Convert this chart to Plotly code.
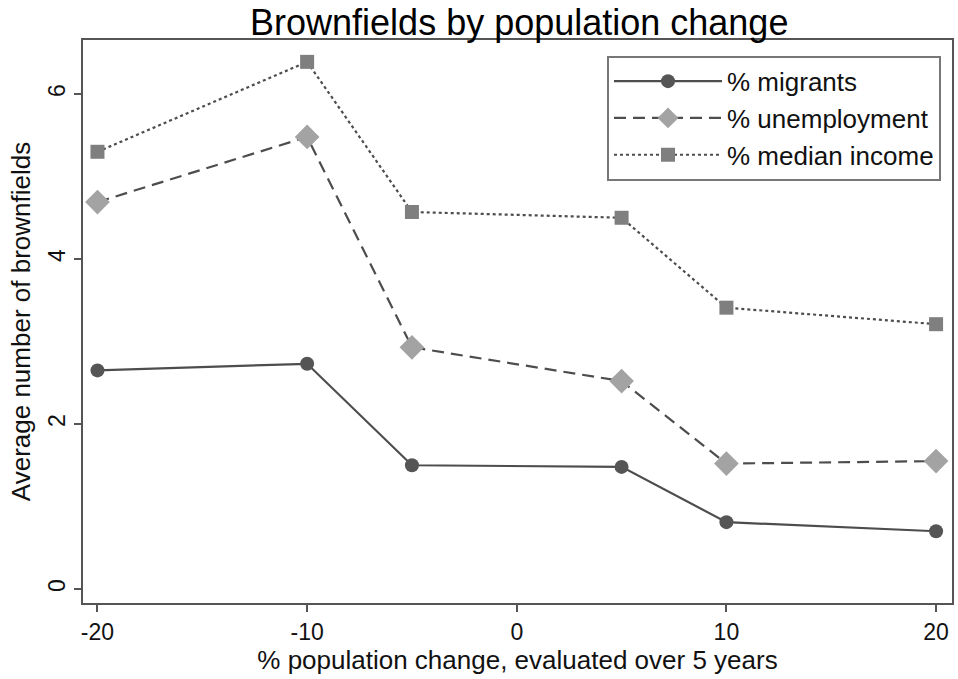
import plotly.graph_objects as go

x_vals = [-20, -10, -5, 5, 10, 20]
migrants = [2.65, 2.73, 1.50, 1.48, 0.81, 0.70]
unemployment = [4.69, 5.48, 2.93, 2.52, 1.52, 1.55]
median_income = [5.30, 6.39, 4.57, 4.50, 3.41, 3.21]
x_ticks = [-20, -10, 0, 10, 20]
x_tick_text = ["-20", "-10", "0", "10", "20"]
y_ticks = [0, 2, 4, 6]

FONT = "Liberation Sans, Arial, sans-serif"
LINE = "#4d4d4d"

fig = go.Figure()
fig.add_trace(go.Scatter(
    x=x_vals, y=migrants, name="% migrants", mode="lines+markers",
    line=dict(color=LINE, width=2.2),
    marker=dict(symbol="circle", size=14, color="#555555"),
))
fig.add_trace(go.Scatter(
    x=x_vals, y=unemployment, name="% unemployment", mode="lines+markers",
    line=dict(color=LINE, width=2.2, dash="12px,7px"),
    marker=dict(symbol="diamond", size=19, color="#a3a3a3"),
))
fig.add_trace(go.Scatter(
    x=x_vals, y=median_income, name="% median income", mode="lines+markers",
    line=dict(color=LINE, width=2.2, dash="dot"),
    marker=dict(symbol="square", size=14, color="#7f7f7f"),
))

fig.update_layout(
    width=958, height=679,
    margin=dict(l=83, r=4, t=40, b=76),
    paper_bgcolor="white", plot_bgcolor="white",
    font=dict(family=FONT, size=22, color="#111111"),
    title=dict(text="Brownfields by population change", x=0.542, xanchor="center",
               y=0.967, yanchor="middle", font=dict(size=36, color="#000000")),
    showlegend=True,
    legend=dict(x=0.603, y=0.972, xanchor="left", yanchor="top",
                bgcolor="white", bordercolor="#777777", borderwidth=2,
                font=dict(size=26), itemwidth=108, tracegroupgap=0),
)
fig.update_xaxes(
    range=[-20.69, 20.76], tickvals=x_ticks, ticktext=x_tick_text,
    ticks="outside", ticklen=7,
    tickwidth=1.5, tickcolor="#555555", showgrid=False, zeroline=False,
    showline=True, linecolor="#555555", linewidth=2, mirror=True,
    title=dict(text="% population change, evaluated over 5 years", standoff=2),
    tickfont=dict(size=23),
)
fig.update_yaxes(
    range=[-0.17, 6.655], tickvals=y_ticks, ticks="outside", ticklen=7,
    tickwidth=1.5, tickcolor="#555555", showgrid=False, zeroline=False,
    showline=True, linecolor="#555555", linewidth=2, mirror=True,
    tickangle=-90,
    title=dict(text="Average number of brownfields", standoff=6),
    tickfont=dict(size=23),
)

fig.write_html("out.html")
